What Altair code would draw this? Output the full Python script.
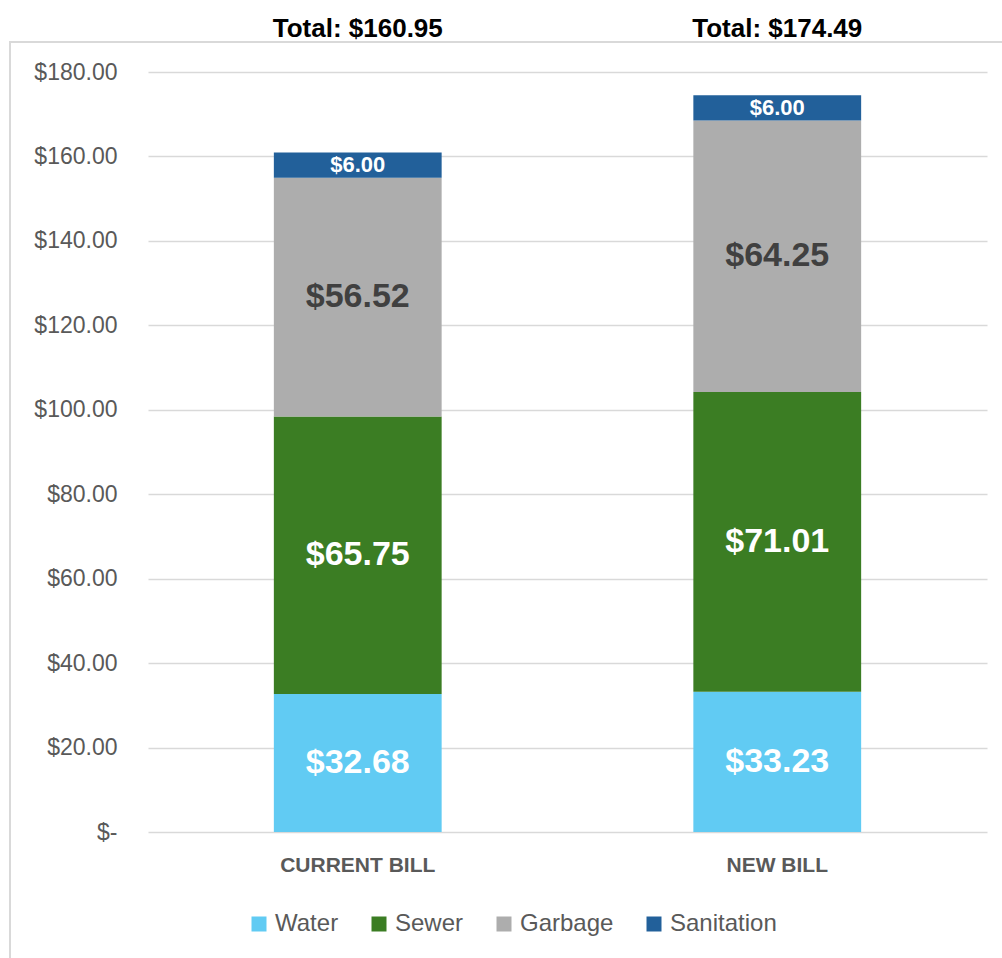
import altair as alt
import pandas as pd

bills = ["CURRENT BILL", "NEW BILL"]
series = ["Water", "Sewer", "Garbage", "Sanitation"]
water = [32.68, 33.23]
sewer = [65.75, 71.01]
garbage = [56.52, 64.25]
sanitation = [6.00, 6.00]
colors = ["#61CBF3", "#3B7D23", "#ADADAD", "#22609A"]
y_ticks = [0, 20, 40, 60, 80, 100, 120, 140, 160, 180]

values_by_series = [water, sewer, garbage, sanitation]
rows = []
for si, (s, vals) in enumerate(zip(series, values_by_series)):
    for bi, b in enumerate(bills):
        rows.append({"bill": b, "series": s, "order": si, "value": vals[bi]})
df = pd.DataFrame(rows)

FONT = "Liberation Sans"
W, H = 839, 760

base = alt.Chart(df)

x_enc = alt.X(
    "bill:N",
    sort=bills,
    title=None,
    scale=alt.Scale(paddingInner=0.6, paddingOuter=0.3),
    axis=alt.Axis(
        labelAngle=0,
        labelFontSize=21,
        labelFontWeight="bold",
        labelColor="#595959",
        labelFont=FONT,
        labelPadding=22,
        ticks=False,
        domain=False,
        grid=False,
    ),
)

bars = base.mark_bar().encode(
    x=x_enc,
    y=alt.Y(
        "value:Q",
        stack="zero",
        title=None,
        scale=alt.Scale(domain=[0, 180], nice=False),
        axis=alt.Axis(
            values=y_ticks,
            labelExpr="datum.value == 0 ? '$-\u00a0\u00a0' : '$' + format(datum.value, '.2f')",
            labelFontSize=23,
            labelColor="#595959",
            labelFont=FONT,
            labelPadding=31,
            ticks=False,
            domain=False,
            grid=True,
            gridColor="#D9D9D9",
            gridWidth=1.5,
        ),
    ),
    color=alt.Color(
        "series:N",
        sort=series,
        scale=alt.Scale(domain=series, range=colors),
        legend=alt.Legend(
            title=None,
            orient="none",
            legendX=99,
            legendY=840,
            direction="horizontal",
            symbolType="square",
            symbolSize=225,
            symbolStrokeWidth=0,
            labelFontSize=24,
            labelColor="#595959",
            labelFont=FONT,
            labelOffset=4,
            columnPadding=28,
        ),
    ),
    order=alt.Order("order:Q", sort="ascending"),
)

labels = (
    base.transform_stack(
        stack="value",
        groupby=["bill"],
        as_=["v0", "v1"],
        sort=[alt.SortField("order", order="ascending")],
    )
    .transform_calculate(mid="(datum.v0 + datum.v1) / 2",
                         label="'$' + format(datum.value, '.2f')")
    .mark_text(font=FONT, fontWeight="bold", baseline="middle", align="center")
    .encode(
        x=alt.X("bill:N", sort=bills),
        y=alt.Y("mid:Q"),
        text="label:N",
        color=alt.condition("datum.series == 'Garbage'", alt.value("#404040"), alt.value("white")),
        size=alt.condition("datum.series == 'Sanitation'", alt.value(22), alt.value(34)),
    )
)

totals = (
    base.transform_aggregate(total="sum(value)", groupby=["bill"])
    .transform_calculate(label="'Total: $' + format(datum.total, '.2f')")
    .mark_text(font=FONT, fontWeight="bold", fontSize=26, color="black",
               baseline="alphabetic", align="center")
    .encode(
        x=alt.X("bill:N", sort=bills),
        y=alt.value(-35),
        text="label:N",
    )
)

border = base.mark_rect(fill="transparent", stroke="#D9D9D9", strokeWidth=2).encode(
    x=alt.value(-138), x2=alt.value(W + 40),
    y=alt.value(-30), y2=alt.value(H + 200),
)

chart = (
    alt.layer(border, bars, labels, totals)
    .properties(
        width=W,
        height=H,
        padding={"left": 148, "top": 72, "right": 15, "bottom": 126},
        autosize=alt.AutoSizeParams(type="none"),
        background="white",
    )
    .configure_view(stroke=None)
)

chart.save("out.html", embed_options={"renderer": "svg", "actions": False})
